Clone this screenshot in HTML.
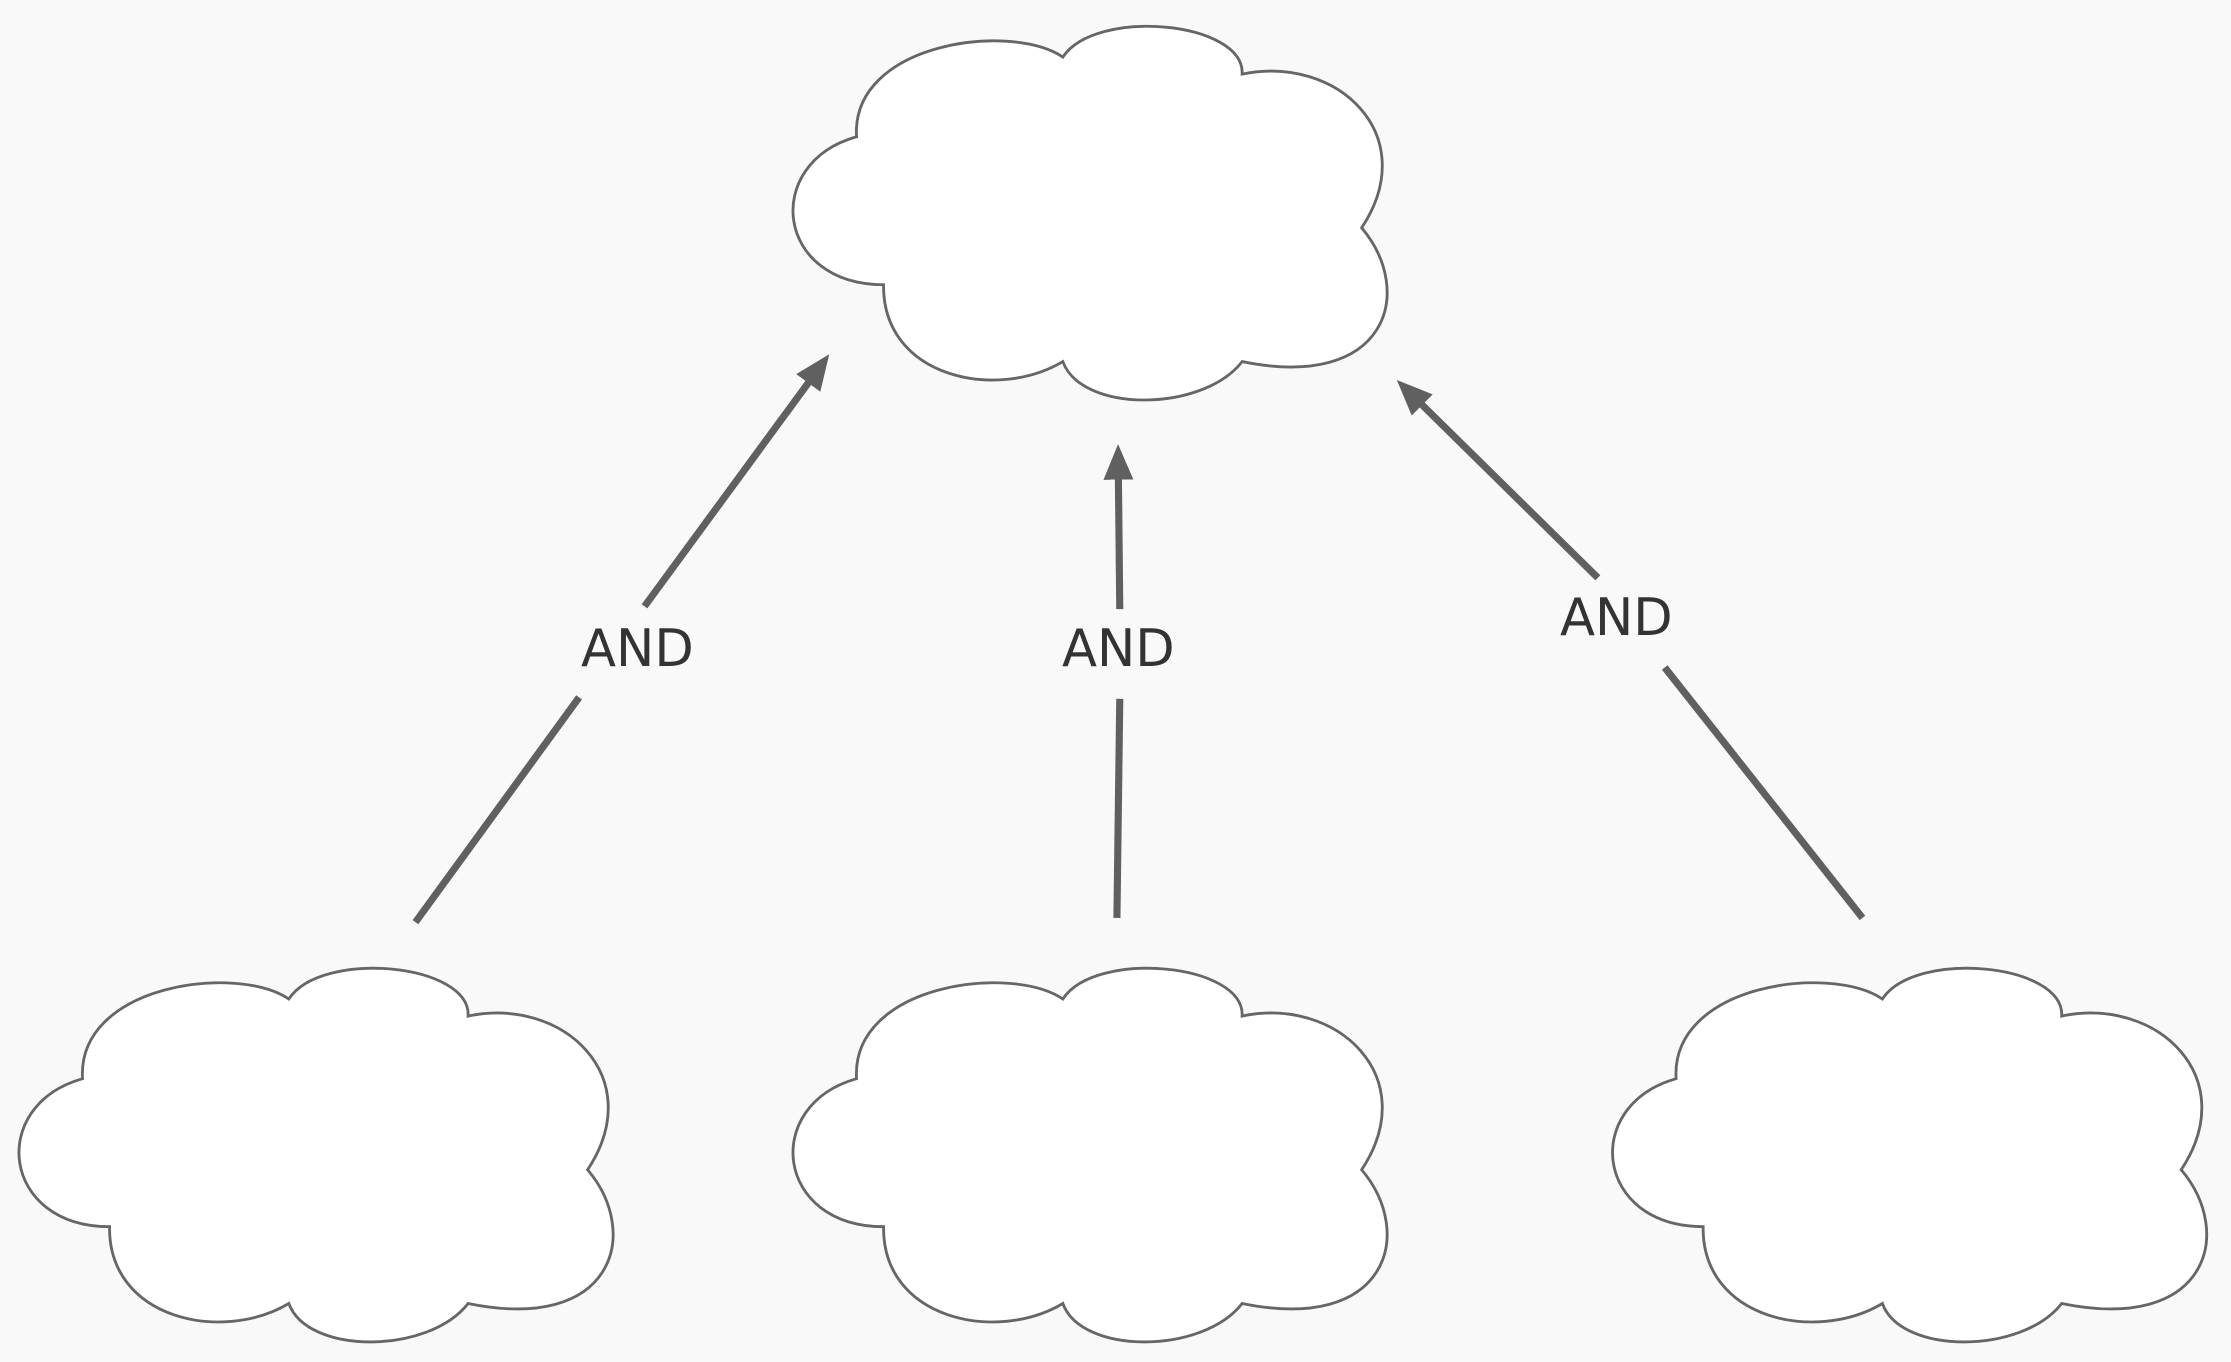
<!DOCTYPE html>
<html><head><meta charset="utf-8"><style>
html,body{margin:0;padding:0;background:#f9f9f9;}
svg{display:block;}
</style></head><body>
<svg width="2231" height="1362" viewBox="0 0 1568 957" xmlns="http://www.w3.org/2000/svg">
<defs>
<path id="cloud" d="M602,96 C598,30 710,15 747,40 C770,5 875,15 873,52 C940,38 1000,95 957,160 C995,205 975,275 873,254 C845,290 760,290 747,254 C700,282 620,265 621,200 C545,200 535,115 602,96 Z" fill="#fff" stroke="#666" stroke-width="2"/>
<marker id="ah" markerWidth="6" markerHeight="6" refX="1" refY="3" orient="auto" markerUnits="strokeWidth">
<path d="M0,0.9 L5,3 L0,5.1 Z" fill="#606060"/>
</marker>
</defs>
<rect width="1568" height="957" fill="#f9f9f9"/>
<use href="#cloud"/>
<use href="#cloud" transform="translate(-544,662)"/>
<use href="#cloud" transform="translate(0,662)"/>
<use href="#cloud" transform="translate(576,662)"/>
<g stroke="#606060" stroke-width="5" fill="none">
<line x1="292" y1="648" x2="407" y2="490"/>
<line x1="453" y1="426" x2="571" y2="265" marker-end="url(#ah)"/>
<line x1="785" y1="645" x2="787" y2="491"/>
<line x1="787" y1="428" x2="786" y2="332" marker-end="url(#ah)"/>
<line x1="1309" y1="645" x2="1170" y2="469"/>
<line x1="1123" y1="406" x2="996" y2="281" marker-end="url(#ah)"/>
</g>
<g font-family="DejaVu Sans, Liberation Sans, sans-serif" font-size="36" fill="#333" text-anchor="middle">
<text x="448" y="468">AND</text>
<text x="786" y="468">AND</text>
<text x="1136" y="446">AND</text>
</g>
</svg>
</body></html>
